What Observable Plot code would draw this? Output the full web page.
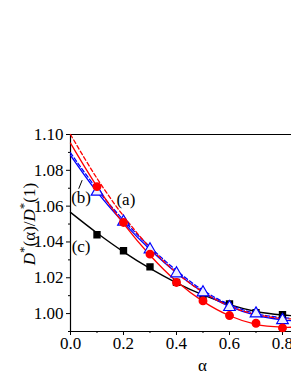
<!DOCTYPE html>
<html>
<head>
<meta charset="utf-8">
<script src="https://cdn.jsdelivr.net/npm/d3@7"></script>
<script src="https://cdn.jsdelivr.net/npm/@observablehq/plot@0.6"></script>
<style>
  html, body { margin: 0; padding: 0; background: #fff; }
  #chart { width: 291px; height: 376px; overflow: hidden; }
</style>
</head>
<body>
<div id="chart"></div>
<script>
// symbol data (alpha values of measured points)
const alphaPts = [0.1, 0.2, 0.3, 0.4, 0.5, 0.6, 0.7, 0.8];
const redPts   = [1.0709, 1.0509, 1.0332, 1.0174, 1.0071, 0.9989, 0.9946, 0.9920];
const bluePts  = [1.0680, 1.0513, 1.0358, 1.0224, 1.0118, 1.0036, 1.0000, 0.9963];
const blackPts = [1.0440, 1.0351, 1.0261, 1.0174, 1.0093, 1.0054, 1.0005, 0.9994];

// fitted curves
const alphaLine  = [0, 0.1, 0.2, 0.3, 0.4, 0.5, 0.6, 0.7, 0.8, 0.84];
const redSolid   = [1.0952, 1.0710, 1.0502, 1.0326, 1.0180, 1.0068, 0.9988, 0.9940, 0.9924, 0.9924];
const redDashed  = [1.1000, 1.0755, 1.0545, 1.0368, 1.0228, 1.0120, 1.0042, 0.9995, 0.9972, 0.9970];
const blueSolid  = [1.0884, 1.0680, 1.0508, 1.0358, 1.0228, 1.0120, 1.0040, 0.9990, 0.9965, 0.9960];
const blueDashed = [1.0898, 1.0695, 1.0522, 1.0372, 1.0240, 1.0130, 1.0050, 1.0000, 0.9977, 0.9975];
const blackSolid = [1.0565, 1.0450, 1.0345, 1.0252, 1.0172, 1.0104, 1.0050, 1.0012, 0.9992, 0.9988];

// ticks
const xTicks = [0, 0.2, 0.4, 0.6, 0.8];
const xMinor = [0.1, 0.3, 0.5, 0.7];
const yTicks = [1.00, 1.02, 1.04, 1.06, 1.08, 1.10];
const yMinor = [0.99, 1.01, 1.03, 1.05, 1.07, 1.09];

// curve labels
const curveLabels = ["(a)", "(b)", "(c)"];
const labelAlpha  = [0.209, 0.040, 0.040];
const labelValue  = [1.0636, 1.0648, 1.0372];
const leader = [{x1: 0.031, y1: 1.0697, x2: 0.044, y2: 1.0745}];

const pts = (ys) => alphaPts.map((a, i) => ({a, v: ys[i]}));
const crv = (ys) => alphaLine.map((a, i) => ({a, v: ys[i]}));
const labels = curveLabels.map((t, i) => ({t, a: labelAlpha[i], v: labelValue[i]}));

const RED = "#ff0000", BLUE = "#0000ff", BLACK = "#000000";

const svg = Plot.plot({
  width: 291,
  height: 376,
  marginLeft: 70,
  marginRight: 0,
  marginTop: 134,
  marginBottom: 45,
  style: {fontFamily: "'Liberation Serif', serif", fontSize: "17px", color: "#000", background: "#fff"},
  x: {domain: [0, 0.834]},
  y: {domain: [0.99, 1.10]},
  marks: [
    Plot.axisX({ticks: xTicks, tickFormat: d3.format(".1f"), tickSize: 4, tickPadding: 1, label: null}),
    Plot.axisX({ticks: xMinor, tickFormat: () => "", tickSize: 2, label: null}),
    Plot.axisY({ticks: yTicks, tickFormat: d3.format(".2f"), tickSize: 4, tickPadding: 3, label: null}),
    Plot.axisY({ticks: yMinor, tickFormat: () => "", tickSize: 2, label: null}),
    Plot.ruleX([0], {stroke: BLACK, strokeWidth: 1.2}),
    Plot.ruleY([0.99], {stroke: BLACK, strokeWidth: 1.2}),
    Plot.ruleY([1.10], {stroke: BLACK, strokeWidth: 1.2}),
    Plot.line(crv(blackSolid), {x: "a", y: "v", stroke: BLACK, strokeWidth: 1.4, curve: "catmull-rom"}),
    Plot.line(crv(blueSolid), {x: "a", y: "v", stroke: BLUE, strokeWidth: 1.3, curve: "catmull-rom"}),
    Plot.line(crv(blueDashed), {x: "a", y: "v", stroke: BLUE, strokeWidth: 1.3, strokeDasharray: "4,2.5", curve: "catmull-rom"}),
    Plot.line(crv(redSolid), {x: "a", y: "v", stroke: RED, strokeWidth: 1.3, curve: "catmull-rom"}),
    Plot.line(crv(redDashed), {x: "a", y: "v", stroke: RED, strokeWidth: 1.3, strokeDasharray: "4,2.5", curve: "catmull-rom"}),
    Plot.dot(pts(blackPts), {x: "a", y: "v", symbol: "square", r: 3.3, fill: BLACK, stroke: BLACK}),
    Plot.dot(pts(bluePts), {x: "a", y: "v", symbol: "triangle", r: 4.3, fill: "#eef0ff", stroke: BLUE, strokeWidth: 1.2}),
    Plot.dot(pts(redPts), {x: "a", y: "v", r: 3.7, fill: RED, stroke: RED}),
    Plot.link(leader, {x1: "x1", y1: "y1", x2: "x2", y2: "y2", stroke: BLACK, strokeWidth: 1}),
    Plot.text(labels, {x: "a", y: "v", text: "t", fontSize: 17, fill: BLACK, textAnchor: "middle", lineAnchor: "middle"})
  ]
});

const s = d3.select(svg);
// y-axis title: D*(α)/D*(1)
const yt = s.append("text")
  .attr("transform", "translate(35,224) rotate(-90)")
  .attr("text-anchor", "middle")
  .attr("font-size", 17)
  .attr("fill", "#000");
yt.append("tspan").attr("font-style", "italic").text("D");
yt.append("tspan").attr("dy", -7).attr("font-size", 13).text("*");
yt.append("tspan").attr("dy", 7).text("(α)/");
yt.append("tspan").attr("font-style", "italic").text("D");
yt.append("tspan").attr("dy", -7).attr("font-size", 13).text("*");
yt.append("tspan").attr("dy", 7).text("(1)");

// x-axis title: α, centred on the full (uncropped) axis
const xs = svg.scale("x");
s.append("text")
  .attr("x", xs.apply(0.5))
  .attr("y", 371)
  .attr("text-anchor", "middle")
  .attr("font-size", 17)
  .attr("fill", "#000")
  .text("α");

document.getElementById("chart").appendChild(svg);
</script>
</body>
</html>
